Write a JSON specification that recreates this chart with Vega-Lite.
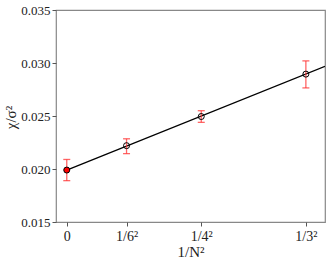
{
  "$schema": "https://vega.github.io/schema/vega-lite/v6.json",
  "width": 269,
  "height": 212,
  "autosize": {"type": "none"},
  "padding": {"left": 56, "top": 10, "right": 5, "bottom": 43},
  "background": "white",
  "config": {
    "font": "'Liberation Serif', 'Times New Roman', serif",
    "view": {"stroke": "#888888", "strokeWidth": 1.2},
    "axis": {
      "grid": false,
      "domainColor": "#555555",
      "tickColor": "#555555",
      "labelColor": "#222222",
      "titleColor": "#222222",
      "labelFont": "'Liberation Serif', 'Times New Roman', serif",
      "titleFont": "'Liberation Serif', 'Times New Roman', serif",
      "labelFontSize": 13,
      "titleFontSize": 15,
      "titleFontWeight": "normal",
      "tickSize": 4
    }
  },
  "datasets": {
    "pts": [
      {"x": 0, "y": 0.0199, "lo": 0.0189, "hi": 0.0209, "kind": "extrap"},
      {"x": 0.027778, "y": 0.0222, "lo": 0.02145, "hi": 0.02285, "kind": "data"},
      {"x": 0.0625, "y": 0.02495, "lo": 0.0244, "hi": 0.0255, "kind": "data"},
      {"x": 0.111111, "y": 0.02895, "lo": 0.02765, "hi": 0.0302, "kind": "data"}
    ],
    "fit": [
      {"x": 0, "y": 0.0199},
      {"x": 0.12, "y": 0.02968}
    ]
  },
  "layer": [
    {
      "data": {"name": "fit"},
      "mark": {"type": "line", "color": "black", "strokeWidth": 1.3, "clip": true},
      "encoding": {
        "x": {
          "field": "x", "type": "quantitative",
          "scale": {"domain": [-0.005, 0.12], "nice": false, "zero": false},
          "axis": {
            "values": [0, 0.027778, 0.0625, 0.111111],
            "labelExpr": "datum.value == 0 ? '0' : datum.value < 0.03 ? '1/6²' : datum.value < 0.07 ? '1/4²' : '1/3²'",
            "labelFontSize": 14,
            "title": "1/N²",
            "titlePadding": 1,
            "labelPadding": 3,
            "domain": false
          }
        },
        "y": {
          "field": "y", "type": "quantitative",
          "scale": {"domain": [0.015, 0.035], "nice": false, "zero": false},
          "axis": {
            "values": [0.015, 0.02, 0.025, 0.03, 0.035],
            "format": ".3f",
            "title": "χ/σ²",
            "titleX": -46,
            "titleY": 107,
            "titleAngle": -90,
            "titleAlign": "center",
            "titleBaseline": "middle",
            "domain": false
          }
        }
      }
    },
    {
      "data": {"name": "pts"},
      "mark": {"type": "rule", "color": "#ff3333", "opacity": 0.75, "strokeWidth": 1.3},
      "encoding": {
        "x": {"field": "x", "type": "quantitative"},
        "y": {"field": "lo", "type": "quantitative"},
        "y2": {"field": "hi"}
      }
    },
    {
      "data": {"name": "pts"},
      "mark": {"type": "tick", "orient": "horizontal", "color": "#ff3333", "opacity": 0.75, "size": 7, "thickness": 1.3},
      "encoding": {
        "x": {"field": "x", "type": "quantitative"},
        "y": {"field": "lo", "type": "quantitative"}
      }
    },
    {
      "data": {"name": "pts"},
      "mark": {"type": "tick", "orient": "horizontal", "color": "#ff3333", "opacity": 0.75, "size": 7, "thickness": 1.3},
      "encoding": {
        "x": {"field": "x", "type": "quantitative"},
        "y": {"field": "hi", "type": "quantitative"}
      }
    },
    {
      "data": {"name": "pts"},
      "mark": {"type": "point", "shape": "circle", "size": 36, "strokeWidth": 1, "stroke": "black", "opacity": 1},
      "encoding": {
        "x": {"field": "x", "type": "quantitative"},
        "y": {"field": "y", "type": "quantitative"},
        "fill": {
          "field": "kind", "type": "nominal",
          "scale": {"domain": ["extrap", "data"], "range": ["#ff0000", "transparent"]},
          "legend": null
        },
        "fillOpacity": {"value": 1}
      }
    }
  ]
}
